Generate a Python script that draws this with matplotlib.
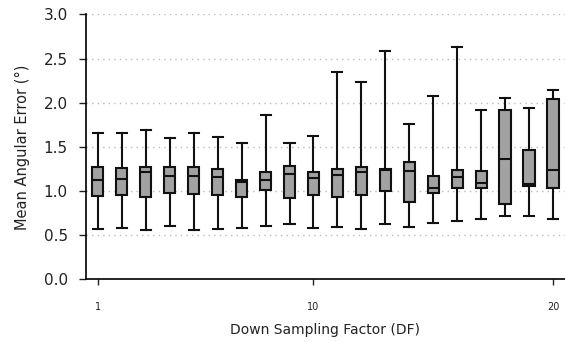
import numpy as np
import matplotlib
matplotlib.use('Agg')
import matplotlib.pyplot as plt

# Datos: estadisticos de cada caja
df = list(range(1, 21))
whislo = [0.575, 0.58, 0.56, 0.60, 0.56, 0.57, 0.58, 0.605, 0.63, 0.58,
          0.59, 0.57, 0.632, 0.594, 0.635, 0.658, 0.684, 0.722, 0.722, 0.684]
q1 = [0.94, 0.96, 0.93, 0.977, 0.97, 0.95, 0.937, 1.01, 0.925, 0.955,
      0.93, 0.955, 0.997, 0.88, 0.974, 1.04, 1.04, 0.858, 1.057, 1.04]
med = [1.12, 1.135, 1.215, 1.165, 1.17, 1.16, 1.10, 1.13, 1.196, 1.15,
       1.18, 1.22, 1.237, 1.222, 1.03, 1.155, 1.09, 1.358, 1.083, 1.24]
q3 = [1.27, 1.265, 1.27, 1.27, 1.27, 1.245, 1.12, 1.22, 1.28, 1.22,
      1.245, 1.275, 1.25, 1.324, 1.17, 1.237, 1.226, 1.92, 1.47, 2.043]
whishi = [1.66, 1.66, 1.69, 1.60, 1.66, 1.61, 1.546, 1.86, 1.54, 1.62,
          2.35, 2.23, 2.58, 1.76, 2.08, 2.625, 1.915, 2.058, 1.94, 2.14]
xticks = [1, 10, 20]

stats = []
for i in range(len(df)):
    stats.append(dict(whislo=whislo[i], q1=q1[i], med=med[i], q3=q3[i],
                      whishi=whishi[i], fliers=[]))

fig = plt.figure(figsize=(5.65, 3.42), dpi=100)
ax = fig.add_axes([0.152, 0.183, 0.848, 0.775])

ax.bxp(stats, positions=df, widths=0.47, capwidths=0.42, patch_artist=True,
       showfliers=False,
       boxprops=dict(facecolor='#a2a2a2', edgecolor='#111111', linewidth=1.5),
       medianprops=dict(color='#111111', linewidth=1.5),
       whiskerprops=dict(color='#111111', linewidth=1.5),
       capprops=dict(color='#111111', linewidth=1.5), zorder=3)

ax.set_xlim(0.5, 20.5)
ax.set_ylim(0, 3.0)
ax.set_xticks(xticks)
ax.set_xticklabels([str(v) for v in xticks], fontsize=7, color='#222222')
ax.set_yticks(np.arange(0, 3.01, 0.5))
ax.set_yticklabels(['%.1f' % v for v in np.arange(0, 3.01, 0.5)],
                   fontsize=11, color='#222222')
ax.tick_params(axis='x', length=4, width=1, pad=12, color='#222222')
ax.tick_params(axis='y', length=5, width=1, pad=8, color='#222222')

ax.yaxis.grid(True, linestyle=(0, (1, 3)), color='#bbbbbb', linewidth=1)
ax.set_axisbelow(True)
for s in ['top', 'right']:
    ax.spines[s].set_visible(False)
ax.spines['left'].set_linewidth(1.2)
ax.spines['bottom'].set_linewidth(1.2)

ax.set_xlabel('Down Sampling Factor (DF)', fontsize=10, labelpad=8,
              color='#222222')
ax.set_ylabel('Mean Angular Error (°)', fontsize=10.5, labelpad=10,
              color='#222222')

fig.savefig('out.png', dpi=100)
